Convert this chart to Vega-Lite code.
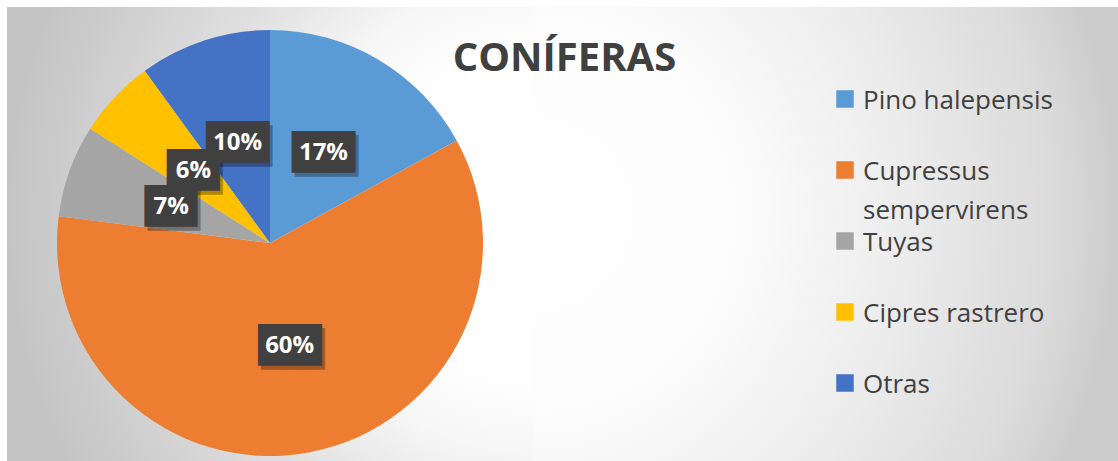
{
  "$schema": "https://vega.github.io/schema/vega-lite/v6.json",
  "autosize": {"type": "pad"},
  "padding": {"left": 7, "top": 7, "right": 0, "bottom": 0},
  "background": "white",
  "title": {
    "text": "CONÍFERAS",
    "anchor": "middle",
    "font": "Open Sans",
    "fontSize": 40,
    "fontWeight": "bold",
    "color": "#404040",
    "baseline": "alphabetic",
    "offset": 0,
    "dy": 104,
    "dx": 2
  },
  "datasets": {
    "coniferas": [
      {"especie": "Pino halepensis", "porcentaje": 17, "orden": 1, "etiqueta": "17%"},
      {"especie": "Cupressus sempervirens", "porcentaje": 60, "orden": 2, "etiqueta": "60%"},
      {"especie": "Tuyas", "porcentaje": 7, "orden": 3, "etiqueta": "7%"},
      {"especie": "Cipres rastrero", "porcentaje": 6, "orden": 4, "etiqueta": "6%"},
      {"especie": "Otras", "porcentaje": 10, "orden": 5, "etiqueta": "10%"}
    ]
  },
  "spacing": 0,
  "hconcat": [
    {
      "width": 526,
      "height": 472,
      "view": {
        "stroke": null,
        "fill": {
          "gradient": "radial",
          "x1": 1, "y1": 0.45, "r1": 0,
          "x2": 1, "y2": 0.45, "r2": 1,
          "stops": [
            {"offset": 0, "color": "#ffffff"},
            {"offset": 0.3, "color": "#ffffff"},
            {"offset": 0.45, "color": "#f6f6f6"},
            {"offset": 0.65, "color": "#e0e0e0"},
            {"offset": 1, "color": "#c4c4c4"}
          ]
        }
      },
      "data": {"name": "coniferas"},
      "encoding": {
        "theta": {"field": "porcentaje", "type": "quantitative", "stack": true},
        "order": {"field": "orden", "type": "quantitative"}
      },
      "layer": [
        {
          "mark": {"type": "arc", "outerRadius": 213},
          "encoding": {
            "color": {
              "field": "especie",
              "type": "nominal",
              "sort": ["Pino halepensis", "Cupressus sempervirens", "Tuyas", "Cipres rastrero", "Otras"],
              "scale": {
                "domain": ["Pino halepensis", "Cupressus sempervirens", "Tuyas", "Cipres rastrero", "Otras"],
                "range": ["#5B9BD5", "#ED7D31", "#A5A5A5", "#FFC000", "#4472C4"]
              },
              "legend": {
                "orient": "none",
                "legendX": 825,
                "legendY": 79,
                "title": null,
                "padding": 0,
                "symbolType": "square",
                "symbolSize": 306,
                "symbolStrokeWidth": 0,
                "symbolOpacity": 1,
                "labelFont": "Open Sans",
                "labelFontSize": 26,
                "labelColor": "#404040",
                "labelOffset": 5,
                "labelLimit": 400,
                "labelBaseline": "top",
                "rowPadding": 4,
                "gridAlign": "all",
                "labelExpr": "datum.label == 'Cupressus sempervirens' ? ['Cupressus', 'sempervirens'] : datum.label",
                "encode": {
                  "labels": {
                    "update": {
                      "dy": {"value": -11.2},
                      "lineHeight": {"value": 39}
                    }
                  }
                }
              }
            }
          }
        },
        {
          "mark": {"type": "text", "radius": 105, "font": "DejaVu Sans Mono", "fontSize": 35, "dx": 3, "dy": 4, "baseline": "middle", "align": "center"},
          "encoding": {
            "detail": {"field": "especie"},
            "color": {"value": "#000000"},
            "text": {"value": "███"},
            "opacity": {"condition": {"test": "length(datum.etiqueta) == 3", "value": 0.3}, "value": 0}
          }
        },
        {
          "mark": {"type": "text", "radius": 105, "font": "DejaVu Sans Mono", "fontSize": 35, "dx": 8, "dy": 4, "baseline": "middle", "align": "center"},
          "encoding": {
            "detail": {"field": "especie"},
            "color": {"value": "#000000"},
            "text": {"value": "██▌"},
            "opacity": {"condition": {"test": "length(datum.etiqueta) == 2", "value": 0.3}, "value": 0}
          }
        },
        {
          "mark": {"type": "text", "radius": 105, "font": "DejaVu Sans Mono", "fontSize": 35, "baseline": "middle", "align": "center"},
          "encoding": {
            "detail": {"field": "especie"},
            "color": {"value": "#404040"},
            "text": {"value": "███"},
            "opacity": {"condition": {"test": "length(datum.etiqueta) == 3", "value": 1}, "value": 0}
          }
        },
        {
          "mark": {"type": "text", "radius": 105, "font": "DejaVu Sans Mono", "fontSize": 35, "dx": 5, "baseline": "middle", "align": "center"},
          "encoding": {
            "detail": {"field": "especie"},
            "color": {"value": "#404040"},
            "text": {"value": "██▌"},
            "opacity": {"condition": {"test": "length(datum.etiqueta) == 2", "value": 1}, "value": 0}
          }
        },
        {
          "mark": {"type": "text", "radius": 105, "font": "Open Sans", "fontSize": 24, "fontWeight": "bold", "baseline": "middle", "align": "center"},
          "encoding": {
            "detail": {"field": "especie"},
            "color": {"value": "#ffffff"},
            "text": {"field": "etiqueta"}
          }
        }
      ]
    },
    {
      "width": 585,
      "height": 472,
      "view": {
        "stroke": null,
        "fill": {
          "gradient": "radial",
          "x1": 0, "y1": 0.45, "r1": 0,
          "x2": 0, "y2": 0.45, "r2": 1,
          "stops": [
            {"offset": 0, "color": "#ffffff"},
            {"offset": 0.35, "color": "#fcfcfc"},
            {"offset": 0.6, "color": "#eeeeee"},
            {"offset": 0.9, "color": "#dadada"},
            {"offset": 1, "color": "#cccccc"}
          ]
        }
      },
      "data": {"values": []},
      "mark": {"type": "point"},
      "encoding": {}
    }
  ]
}
